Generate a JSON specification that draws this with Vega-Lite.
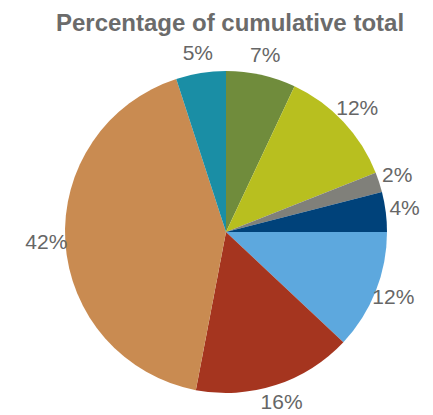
{
  "$schema": "https://vega.github.io/schema/vega-lite/v6.json",
  "width": 434,
  "height": 404,
  "autosize": {"type": "none"},
  "padding": {"top": 30, "left": 9, "right": 0, "bottom": 0},
  "title": {"text": "Percentage of cumulative total", "font": "Liberation Sans", "fontSize": 24, "fontWeight": "bold", "color": "#6b6b6b", "anchor": "middle", "offset": -6, "dx": 4},
  "view": {"stroke": null},
  "data": {"values": [
    {"seg": "S1", "order": 1, "value": 7, "label": "7%"},
    {"seg": "S2", "order": 2, "value": 12, "label": "12%"},
    {"seg": "S3", "order": 3, "value": 2, "label": "2%"},
    {"seg": "S4", "order": 4, "value": 4, "label": "4%"},
    {"seg": "S5", "order": 5, "value": 12, "label": "12%"},
    {"seg": "S6", "order": 6, "value": 16, "label": "16%"},
    {"seg": "S7", "order": 7, "value": 42, "label": "42%"},
    {"seg": "S8", "order": 8, "value": 5, "label": "5%"}
  ]},
  "encoding": {
    "theta": {"field": "value", "type": "quantitative", "stack": true},
    "order": {"field": "order", "type": "quantitative"},
    "color": {"field": "seg", "type": "nominal", "legend": null,
      "scale": {"domain": ["S1","S2","S3","S4","S5","S6","S7","S8"],
                "range": ["#708c3c","#b8bf1f","#80807a","#00427a","#5da8de","#a5351f","#c98b51","#1a8ea5"]}}
  },
  "layer": [
    {"mark": {"type": "arc", "outerRadius": 161}},
    {"mark": {"type": "text", "radius": 180, "font": "Liberation Sans", "fontSize": 21, "align": "center", "baseline": "middle"},
     "encoding": {"text": {"field": "label", "type": "nominal"}, "color": {"value": "#666666"}}}
  ]
}
